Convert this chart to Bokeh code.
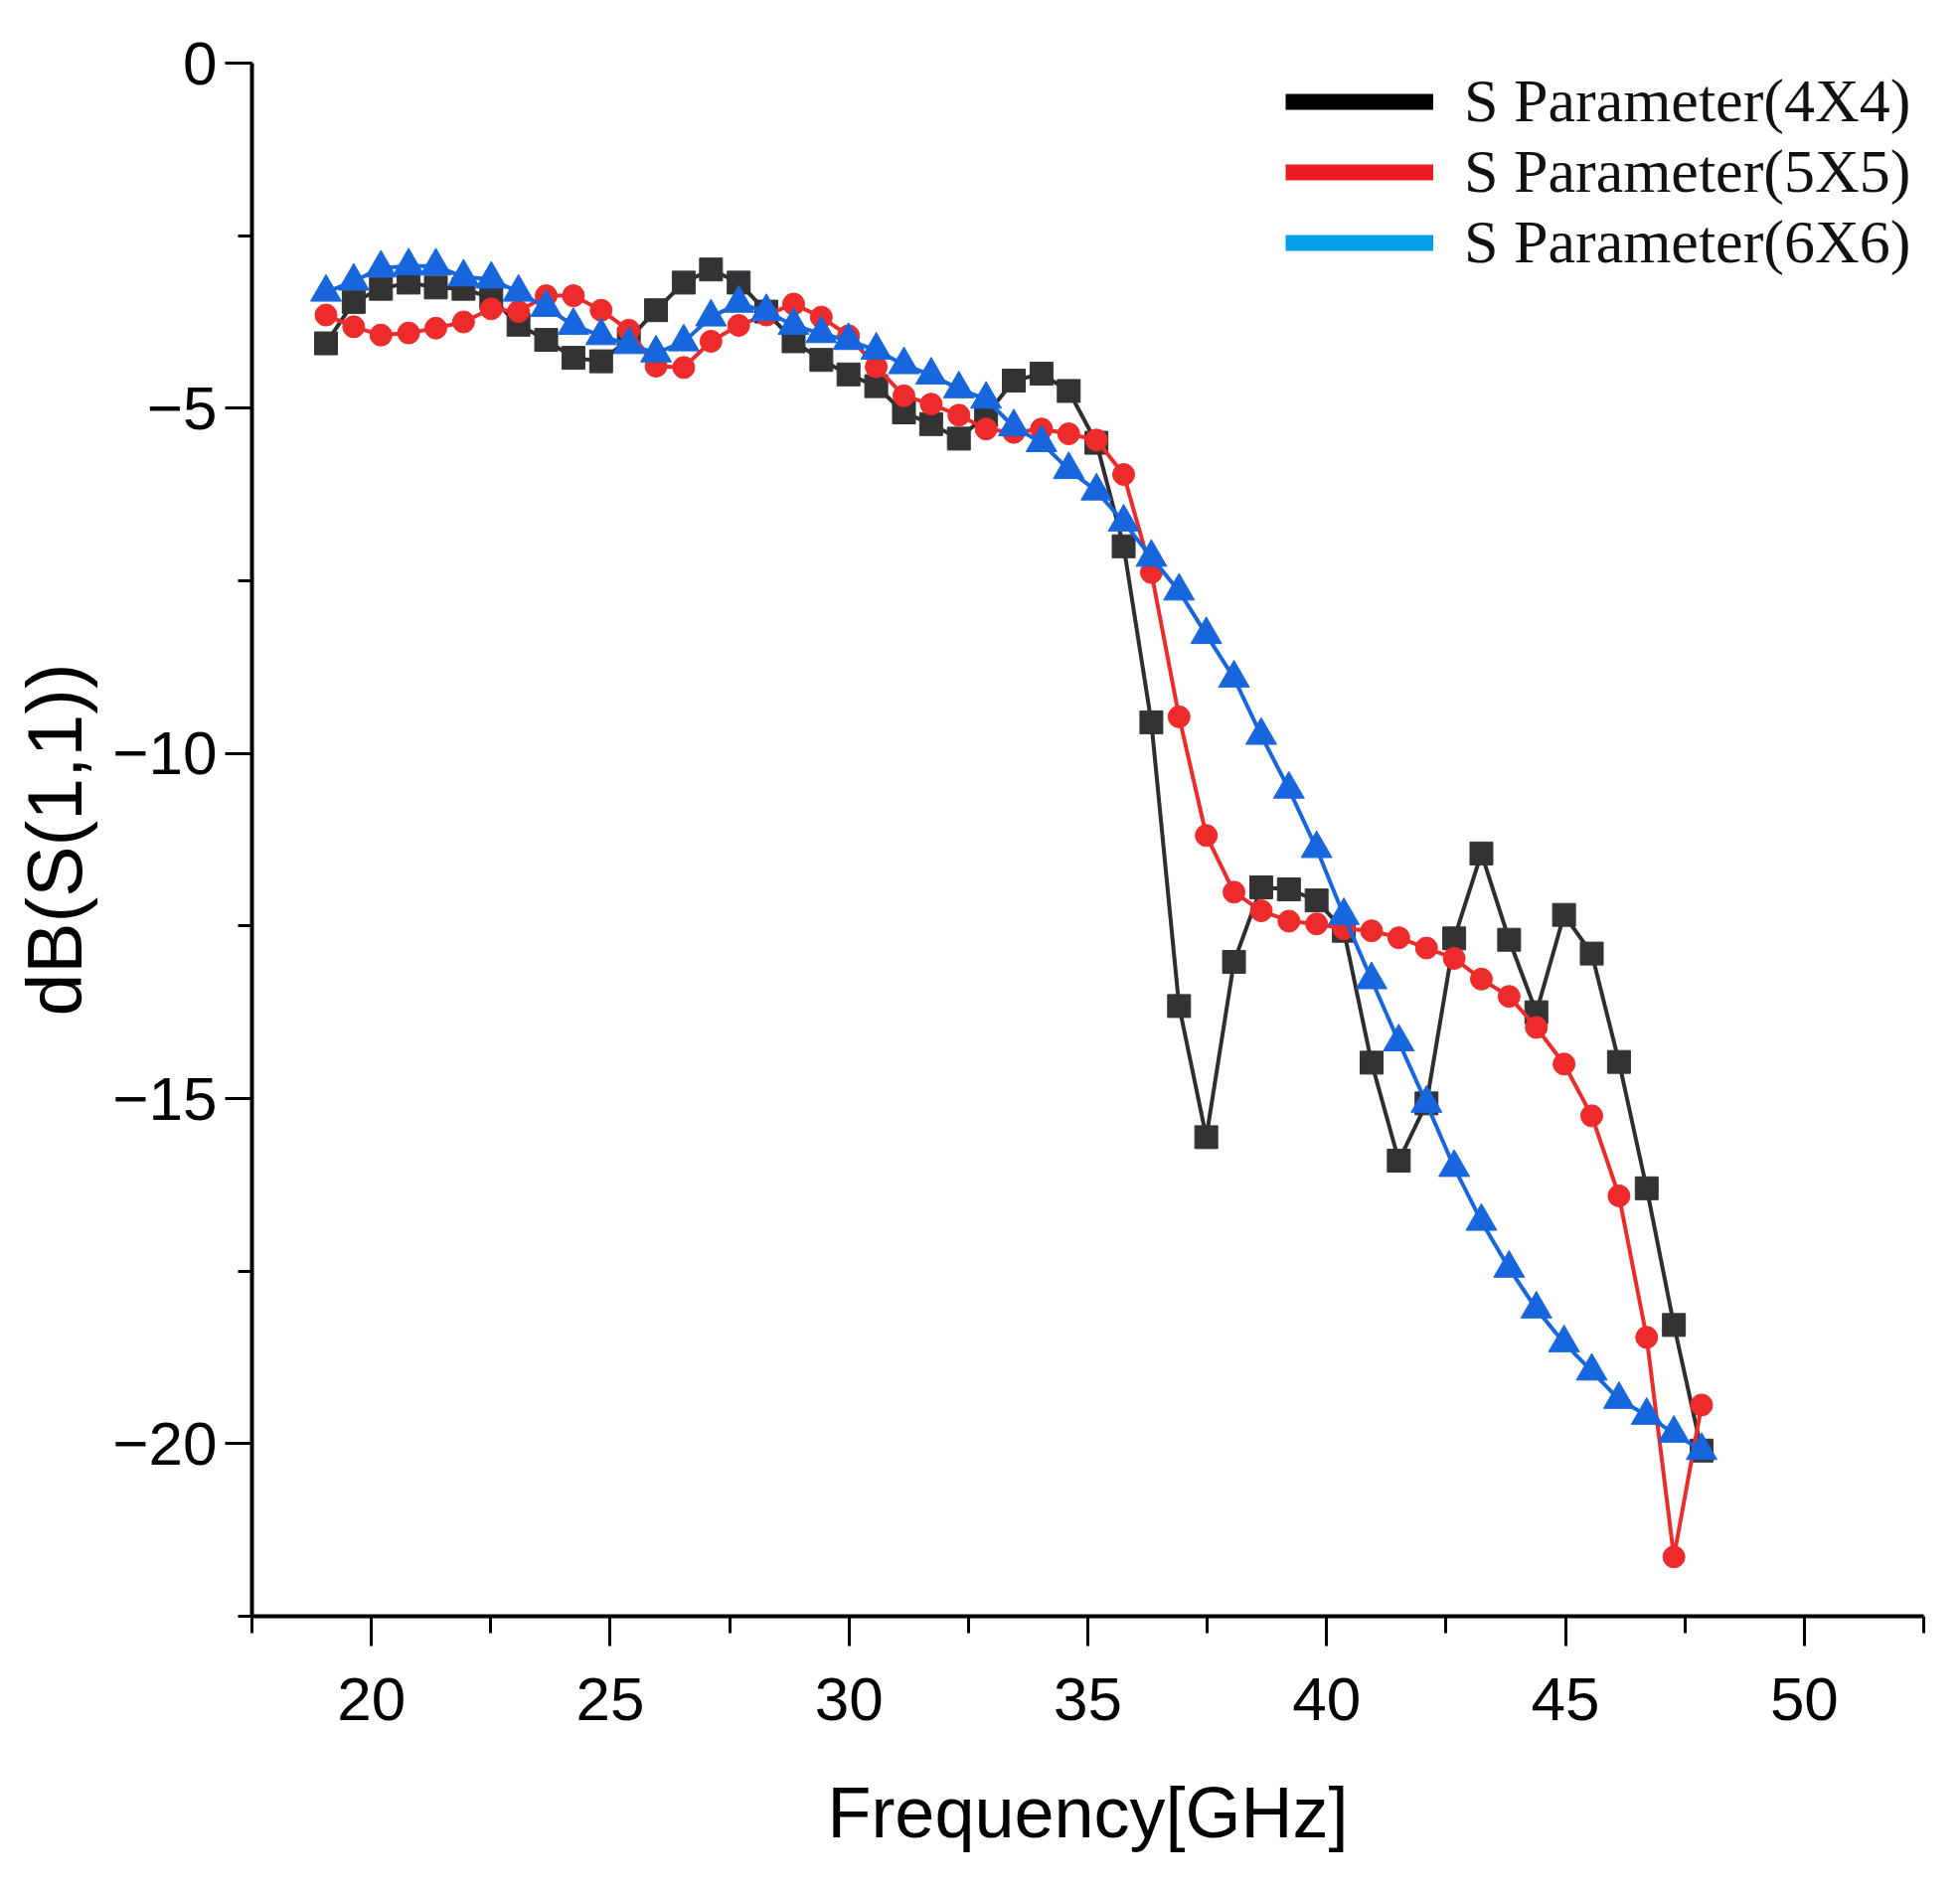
from bokeh.plotting import figure
from bokeh.models import Range1d, SingleIntervalTicker, Legend, LegendItem
from bokeh.embed import file_html
from bokeh.resources import INLINE

freq = [19.05, 19.63, 20.20, 20.78, 21.35, 21.93, 22.51, 23.08, 23.66, 24.23,
        24.81, 25.39, 25.96, 26.54, 27.11, 27.69, 28.27, 28.84, 29.42, 29.99,
        30.57, 31.15, 31.72, 32.30, 32.87, 33.45, 34.03, 34.60, 35.18, 35.75,
        36.33, 36.91, 37.48, 38.06, 38.63, 39.21, 39.79, 40.36, 40.94, 41.51,
        42.09, 42.67, 43.24, 43.82, 44.39, 44.97, 45.55, 46.12, 46.70, 47.27,
        47.85]

s11_4x4 = [-4.06, -3.46, -3.27, -3.18, -3.25, -3.27, -3.40, -3.79, -4.01, -4.27,
           -4.32, -4.00, -3.58, -3.18, -2.99, -3.18, -3.60, -4.03, -4.30, -4.51,
           -4.68, -5.06, -5.23, -5.44, -5.10, -4.60, -4.50, -4.75, -5.50, -7.00,
           -9.55, -13.66, -15.56, -13.02, -11.94, -11.97, -12.13, -12.57, -14.48, -15.90,
           -15.07, -12.68, -11.45, -12.70, -13.75, -12.34, -12.90, -14.47, -16.30, -18.28,
           -20.10]

s11_5x5 = [-3.65, -3.82, -3.94, -3.91, -3.84, -3.75, -3.56, -3.60, -3.37, -3.37,
           -3.58, -3.87, -4.39, -4.41, -4.03, -3.80, -3.65, -3.49, -3.68, -3.95,
           -4.40, -4.82, -4.94, -5.10, -5.30, -5.35, -5.30, -5.37, -5.46, -5.96,
           -7.38, -9.47, -11.19, -12.01, -12.28, -12.43, -12.47, -12.54, -12.57, -12.67,
           -12.82, -12.97, -13.27, -13.52, -13.97, -14.50, -15.25, -16.41, -18.46, -21.64,
           -19.44]

s11_6x6 = [-3.32, -3.16, -2.97, -2.94, -2.94, -3.10, -3.13, -3.32, -3.54, -3.80,
           -3.95, -4.08, -4.20, -4.04, -3.68, -3.48, -3.60, -3.80, -3.92, -4.02,
           -4.16, -4.37, -4.52, -4.72, -4.87, -5.27, -5.50, -5.89, -6.20, -6.65,
           -7.16, -7.65, -8.28, -8.91, -9.74, -10.52, -11.38, -12.35, -13.28, -14.18,
           -15.07, -16.00, -16.78, -17.46, -18.05, -18.54, -18.95, -19.36, -19.59, -19.85,
           -20.10]

labels = ["S Parameter(4X4)", "S Parameter(5X5)", "S Parameter(6X6)"]
y_ticks = [0, -5, -10, -15, -20]
y_tick_labels = ["0", "\u22125", "\u221210", "\u221215", "\u221220"]

p = figure(width=1956, height=1888,
           x_range=Range1d(17.5, 52.5), y_range=Range1d(-22.5, 0),
           output_backend="svg", toolbar_location=None,
           min_border_left=253, min_border_right=21,
           min_border_top=63, min_border_bottom=262)
p.outline_line_color = None
p.xgrid.visible = False
p.ygrid.visible = False
p.background_fill_color = "white"

# series: black squares, red circles, blue triangles
p.line(freq, s11_4x4, line_color="#2e2e2e", line_width=4)
p.scatter(freq, s11_4x4, marker="square", size=23, fill_color="#333333", line_color="#333333")
p.line(freq, s11_5x5, line_color="#ee2b2b", line_width=4)
p.scatter(freq, s11_5x5, marker="circle", size=22, fill_color="#ee2b2b", line_color="#ee2b2b")
p.line(freq, s11_6x6, line_color="#1766dd", line_width=4)
p.scatter(freq, s11_6x6, marker="triangle", size=31, fill_color="#1766dd", line_color="#1766dd")

# legend-only line samples (no visible data)
nan = float("nan")
l1 = p.line([nan], [nan], line_color="#000000", line_width=16)
l2 = p.line([nan], [nan], line_color="#ed1c24", line_width=16)
l3 = p.line([nan], [nan], line_color="#00a0e9", line_width=16)
legend = Legend(items=[LegendItem(label=labels[0], renderers=[l1]),
                       LegendItem(label=labels[1], renderers=[l2]),
                       LegendItem(label=labels[2], renderers=[l3])],
                location=(1040, 1347), orientation="vertical",
                glyph_width=149, glyph_height=20, label_height=71,
                spacing=0, padding=0, margin=0, label_standoff=31,
                label_text_font="Liberation Serif", label_text_font_size="62px",
                label_text_color="#111111",
                border_line_alpha=0, background_fill_alpha=0)
p.add_layout(legend)

xt = SingleIntervalTicker(interval=5, num_minor_ticks=2)
yt = SingleIntervalTicker(interval=5, num_minor_ticks=2)
p.xaxis.ticker = xt
p.yaxis.ticker = yt
p.yaxis.major_label_overrides = {t: s for t, s in zip(y_ticks, y_tick_labels)}

for ax in (p.xaxis, p.yaxis):
    ax.axis_line_width = 4
    ax.axis_line_color = "black"
    ax.major_tick_line_width = 3
    ax.minor_tick_line_width = 3
    ax.major_tick_line_color = "black"
    ax.minor_tick_line_color = "black"
    ax.major_tick_in = 0
    ax.minor_tick_in = 0
    ax.major_label_text_font = "Liberation Sans"
    ax.major_label_text_font_size = "62px"
    ax.major_label_text_color = "black"
    ax.axis_label_text_font = "Liberation Sans"
    ax.axis_label_text_font_style = "normal"
    ax.axis_label_text_color = "black"

p.xaxis.axis_label_text_font_size = "72px"
p.yaxis.axis_label_text_font_size = "77px"
p.xaxis.major_tick_out = 30
p.xaxis.minor_tick_out = 17
p.yaxis.major_tick_out = 27
p.yaxis.minor_tick_out = 14
p.xaxis.major_label_standoff = 32
p.yaxis.major_label_standoff = 8
p.xaxis.axis_label = "Frequency[GHz]"
p.yaxis.axis_label = "dB(S(1,1))"
p.xaxis.axis_label_standoff = 50
p.yaxis.axis_label_standoff = 12

open("out.html", "w").write(file_html(p, INLINE))
